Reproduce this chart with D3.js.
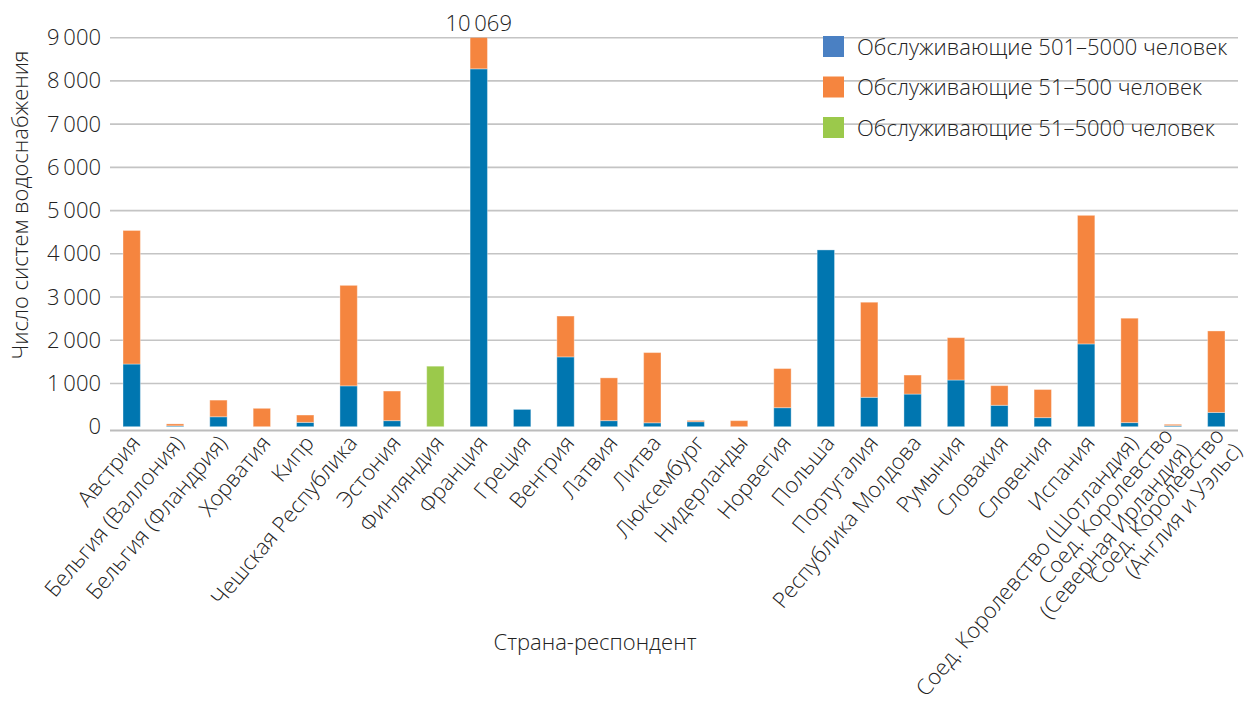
<!DOCTYPE html>
<html lang="ru">
<head>
<meta charset="utf-8">
<script src="https://cdn.jsdelivr.net/npm/d3@7"></script>
<style>
  html, body { margin: 0; padding: 0; background: #fff; }
  svg { display: block; }
  text { font-family: "Open Sans", "Liberation Sans", sans-serif; font-weight: 300; fill: #222; }
</style>
</head>
<body>
<svg id="chart" width="1250" height="715"></svg>
<script>
// Countries (x categories); "|" marks a line break in the label
const countries = [
  "Австрия", "Бельгия (Валлония)", "Бельгия (Фландрия)", "Хорватия", "Кипр",
  "Чешская Республика", "Эстония", "Финляндия", "Франция", "Греция", "Венгрия",
  "Латвия", "Литва", "Люксембург", "Нидерланды", "Норвегия", "Польша",
  "Португалия", "Республика Молдова", "Румыния", "Словакия", "Словения",
  "Испания", "Соед. Королевство (Шотландия)",
  "Соед. Королевство|(Северная Ирландия)", "Соед. Королевство|(Англия и Уэльс)"
];
// Systems serving 501–5000 people
const large = [1450, 20, 230, 0, 100, 945, 140, 0, 8280, 400, 1615, 140, 90, 115, 0,
               440, 4090, 680, 755, 1080, 495, 210, 1915, 95, 25, 330];
// Systems serving 51–500 people
const small = [3090, 45, 385, 425, 170, 2325, 685, 0, 1789, 0, 945, 990, 1625, 30, 140,
               905, 0, 2200, 440, 980, 455, 650, 2975, 2415, 30, 1885];
// Systems serving 51–5000 people (no split reported)
const combined = [0, 0, 0, 0, 0, 0, 0, 1400, 0, 0, 0, 0, 0, 0, 0,
                  0, 0, 0, 0, 0, 0, 0, 0, 0, 0, 0];
const yTicks = [0, 1000, 2000, 3000, 4000, 5000, 6000, 7000, 8000, 9000];
const seriesNames = ["Обслуживающие 501–5000 человек", "Обслуживающие 51–500 человек", "Обслуживающие 51–5000 человек"];
const yTitle = "Число систем водоснабжения";
const xTitle = "Страна-респондент";

const barColors = ["#0076b0", "#f5853f", "#9bc94b"];
const legendColors = ["#4a80c3", "#f5853f", "#9bc94b"];
const fontSize = "22px";

const svg = d3.select("#chart");
const plotLeft = 110, plotRight = 1238, plotTop = 37.7, plotBottom = 426.7;

const x = d3.scaleBand().domain(countries).range([plotLeft, plotRight]).paddingInner(0.6).paddingOuter(0.3);
const y = d3.scaleLinear().domain([0, 9000]).range([plotBottom, plotTop]);

const ru = d3.formatLocale({ decimal: ",", thousands: "\u2009", grouping: [3], currency: ["", ""] });
const fmt = ru.format(",d");

// gridlines
svg.append("g").selectAll("line").data(yTicks.filter(d => d > 0)).join("line")
  .attr("x1", plotLeft).attr("x2", plotRight)
  .attr("y1", d => y(d)).attr("y2", d => y(d))
  .attr("stroke", "#c4c4c4").attr("stroke-width", 1.6);

// y axis labels
const yAxis = svg.append("g").attr("transform", `translate(${plotLeft},0)`)
  .call(d3.axisLeft(y).tickValues(yTicks).tickSize(0).tickPadding(9).tickFormat(fmt));
yAxis.select(".domain").remove();
yAxis.selectAll("text").style("font-size", fontSize).style("font-family", null).attr("fill", "#222");

// stacked bars, clipped at the top of the value axis
svg.append("clipPath").attr("id", "plotClip").append("rect")
  .attr("x", 0).attr("y", plotTop).attr("width", 1250).attr("height", plotBottom - plotTop + 5);

const rows = countries.map((c, i) => ({ c, v: [large[i], small[i], combined[i]] }));
const barG = svg.append("g").attr("clip-path", "url(#plotClip)");
rows.forEach(r => {
  let acc = 0;
  r.v.forEach((v, k) => {
    if (v <= 0) return;
    barG.append("rect")
      .attr("x", x(r.c)).attr("width", x.bandwidth())
      .attr("y", y(acc + v)).attr("height", y(acc) - y(acc + v))
      .attr("fill", barColors[k])
      .attr("stroke", "rgba(255,255,255,0.35)").attr("stroke-width", 1);
    acc += v;
  });
});

// baseline
svg.append("line").attr("x1", plotLeft).attr("x2", plotRight)
  .attr("y1", plotBottom + 3.8).attr("y2", plotBottom + 3.8)
  .attr("stroke", "#bcbcbc").attr("stroke-width", 2.2);

// total label for the bar that runs past the axis
const fi = countries.indexOf("Франция");
svg.append("text")
  .attr("x", x(countries[fi]) + x.bandwidth() / 2).attr("y", 31)
  .attr("text-anchor", "middle").style("font-size", fontSize)
  .text(fmt(large[fi] + small[fi] + combined[fi]));

// category labels, rotated; the last two-line label sits a little to the right
const xl = svg.append("g");
const lineStep = 1.05; // em, between lines of a two-line label
const lastIdx = countries.length - 1;
countries.forEach((c, i) => {
  const lines = c.split("|");
  const nudge = (i === lastIdx) ? 8 : 0;
  const cx = x(c) + x.bandwidth() / 2 + 4 + nudge;
  const t = xl.append("text")
    .attr("transform", `translate(${cx},${plotBottom + 12}) rotate(-50)`)
    .attr("text-anchor", "end").style("font-size", fontSize);
  const n = lines.length;
  lines.forEach((ln, j) => {
    t.append("tspan").attr("x", 0)
      .attr("dy", j === 0 ? `${0.35 - (n - 1) * lineStep / 2}em` : `${lineStep}em`)
      .text(ln);
  });
});

// axis titles
svg.append("text").attr("x", 595).attr("y", 650).attr("text-anchor", "middle")
  .style("font-size", fontSize).text(xTitle);
svg.append("text").attr("transform", `translate(28,205) rotate(-90)`).attr("text-anchor", "middle")
  .style("font-size", fontSize).text(yTitle);

// legend
const lg = svg.append("g").attr("transform", "translate(823,36)");
seriesNames.forEach((s, i) => {
  const g = lg.append("g").attr("transform", `translate(0,${i * 40.5})`);
  g.append("rect").attr("width", 21).attr("height", 21).attr("fill", legendColors[i]);
  g.append("text").attr("x", 34).attr("y", 18.5).style("font-size", fontSize).text(s);
});
</script>
</body>
</html>
